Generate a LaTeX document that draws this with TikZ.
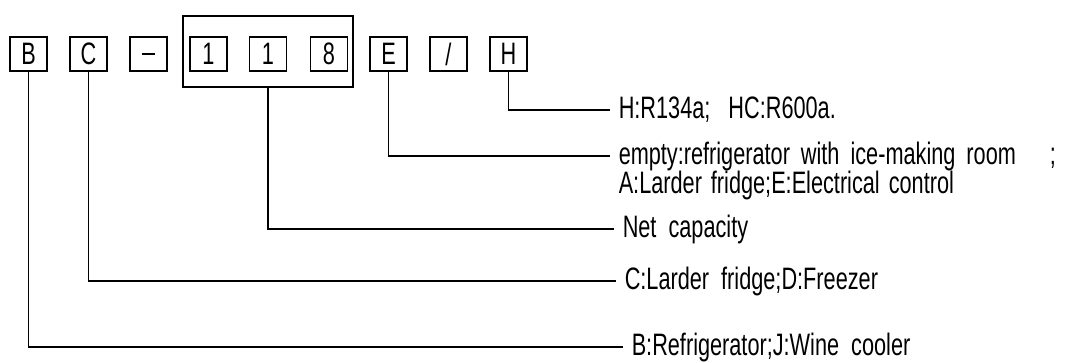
\documentclass[tikz,border=0pt]{standalone}
\usepackage{fontspec}
\setmainfont{Liberation Sans}[FakeStretch=0.7]
\usetikzlibrary{fit}
\begin{document}
\begin{tikzpicture}[x=1pt,y=-1pt,
  line width=1.5pt,
  letterbox/.style={draw, minimum width=37pt, minimum height=34pt, inner sep=0pt, font=\fontsize{31}{33}\selectfont},
  groupbox/.style={draw, inner sep=0pt},
  legend/.style={anchor=west, inner xsep=8pt, inner ysep=0pt, font=\fontsize{31}{33}\selectfont}
]
\useasboundingbox (0,0) rectangle (1078,363);
\node[letterbox] (kB) at (28.5,54) {B};
\node[letterbox] (kC) at (88.5,54) {C};
\node[letterbox] (kD) at (148.5,54) {\rule{13pt}{1.6pt}};
\node[letterbox] (k1) at (208.5,54) {1};
\node[letterbox] (k2) at (268,54) {1};
\node[letterbox] (k8) at (329,54) {8};
\node[letterbox] (kE) at (388.5,54) {E};
\node[letterbox] (kS) at (448.5,54) {/};
\node[letterbox] (kH) at (508.5,54) {H};
\node[groupbox, minimum width=170pt, minimum height=71pt] (grp) at (268,51.5) {};

\node[legend] (tH) at (610,110) {H:R134a;\ \ \ HC:R600a.};
\node[legend] (tE) at (610,156) {empty:refrigerator\hspace{11pt}with\hspace{11pt}ice-making\hspace{11pt}room\hspace{34pt};};
\node[legend] (tE2) at ([yshift=-29pt]tE.west) {A:Larder\hspace{9pt}fridge;E:Electrical\hspace{9pt}control};
\node[legend] (tN) at (614,229) {Net\ \ capacity};
\node[legend] (tC) at (616,281) {C:Larder\ \ fridge;D:Freezer};
\node[legend] (tB) at (623,347) {B:Refrigerator;J:Wine\ \ cooler};

\draw (kH.south) |- (tH.west);
\draw (kE.south) |- (tE.west);
\draw (grp.south) |- (tN.west);
\draw (kC.south) |- (tC.west);
\draw (kB.south) |- (tB.west);
\end{tikzpicture}
\end{document}
